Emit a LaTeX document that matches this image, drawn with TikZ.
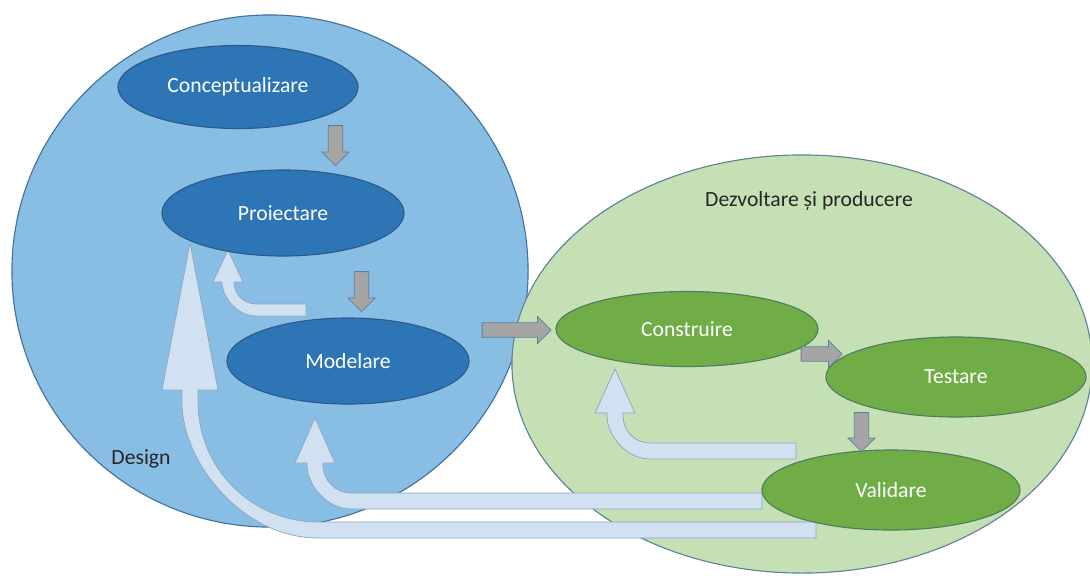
\documentclass[tikz,border=0pt]{standalone}
\usepackage{fontspec}
\setmainfont{Carlito}
\usetikzlibrary{shapes.geometric,shapes.arrows}

\definecolor{designfill}{RGB}{137,190,228}
\definecolor{designline}{RGB}{65,113,156}
\definecolor{devfill}{RGB}{197,224,180}
\definecolor{devline}{RGB}{95,130,150}
\definecolor{bluefill}{RGB}{46,117,182}
\definecolor{blueline}{RGB}{43,90,140}
\definecolor{greenfill}{RGB}{112,173,71}
\definecolor{greenline}{RGB}{80,125,95}
\definecolor{fwdfill}{RGB}{165,165,165}
\definecolor{fwdline}{RGB}{96,125,155}
\definecolor{backfill}{RGB}{210,225,242}
\definecolor{backline}{RGB}{140,165,195}
\definecolor{labeltext}{RGB}{38,38,38}

\begin{document}
\begin{tikzpicture}[x=0.025cm, y=-0.025cm,
  every node/.style={font=\fontsize{15.4}{18}\selectfont},
  area/.style={ellipse, line width=0.8pt, inner sep=0pt},
  bluestage/.style={ellipse, draw=blueline, fill=bluefill, text=white, line width=0.8pt},
  greenstage/.style={ellipse, draw=greenline, fill=greenfill, text=white, line width=0.8pt},
  fwd/.style={single arrow, draw=fwdline, fill=fwdfill, line width=0.6pt,
    inner xsep=0pt, inner ysep=0.17cm,
    minimum width=0.66cm, single arrow head extend=0.16cm},
  feedback/.style={draw=backline, fill=backfill, line width=0.5pt}]
  \useasboundingbox (0,0) rectangle (1090,575);

  % the two big areas
  \node[area, draw=designline, fill=designfill, minimum width=12.9cm, minimum height=12.8cm] (design) at (270,271) {};
  \node[area, draw=devline, fill=devfill, minimum width=14.5cm, minimum height=10.45cm] (dev) at (802,364) {};
  \node[text=labeltext] (designlbl) at (141,459) {Design};
  \node[text=labeltext] (devlbl) at (809,201) {Dezvoltare și producere};

  % feedback arrows (drawn below the stages)
  % Modelare -> Proiectare
  \draw[feedback] (228,250) -- (243,282) -- (234,282)
    .. controls (234,294.2) and (243.8,304) .. (256,304) -- (306,304) -- (306,316) -- (256,316)
    .. controls (237.2,316) and (222,297.2) .. (222,282) -- (213,282) -- cycle;
  % Validare -> Proiectare
  \draw[feedback] (190,243) -- (218,390) -- (198,390) -- (198,402)
    .. controls (198,468.3) and (251.7,522) .. (318,522) -- (816,522) -- (816,538) -- (318,538)
    .. controls (242.9,538) and (182,462.9) .. (182,402) -- (182,390) -- (162,390) -- cycle;
  % Validare -> Modelare
  \draw[feedback] (315,418) -- (335,463) -- (323,463) -- (323,465)
    .. controls (323,480.5) and (335.5,493) .. (351,493) -- (762,493) -- (762,509) -- (351,509)
    .. controls (326.7,509) and (307,484.7) .. (307,465) -- (307,463) -- (295,463) -- cycle;
  % Validare -> Construire
  \draw[feedback] (615,369) -- (635,413) -- (623,413) -- (623,416)
    .. controls (623,430.9) and (635.1,443) .. (650,443) -- (796,443) -- (796,459) -- (650,459)
    .. controls (626.3,459) and (607,435.3) .. (607,416) -- (607,413) -- (595,413) -- cycle;

  % stages
  \node[bluestage, minimum width=6cm, minimum height=2.075cm] (concept) at (238,87) {Conceptualizare};
  \node[bluestage, minimum width=6.05cm, minimum height=2.15cm] (proj) at (283,213) {Proiectare};
  \node[bluestage, minimum width=6.05cm, minimum height=2.15cm] (model) at (348,361) {Modelare};
  \node[greenstage, minimum width=6.55cm, minimum height=1.875cm] (build) at (687,329) {Construire};
  \node[greenstage, minimum width=6.5cm, minimum height=2cm] (test) at (956,377) {Testare};
  \node[greenstage, minimum width=6.45cm, minimum height=2cm] (valid) at (891,490) {Validare};

  % forward arrows
  \node[fwd, rotate=-90, minimum height=1cm] (a1) at (335.5,142) {};
  \node[fwd, rotate=-90, minimum height=1cm] (a2) at (361.5,288) {};
  \node[fwd, minimum height=1.725cm] (a3) at (513,330) {};
  \node[fwd, minimum height=1.025cm] (a4) at (818,354) {};
  \node[fwd, rotate=-90, minimum height=0.975cm] (a5) at (861.5,428.5) {};
\end{tikzpicture}
\end{document}
